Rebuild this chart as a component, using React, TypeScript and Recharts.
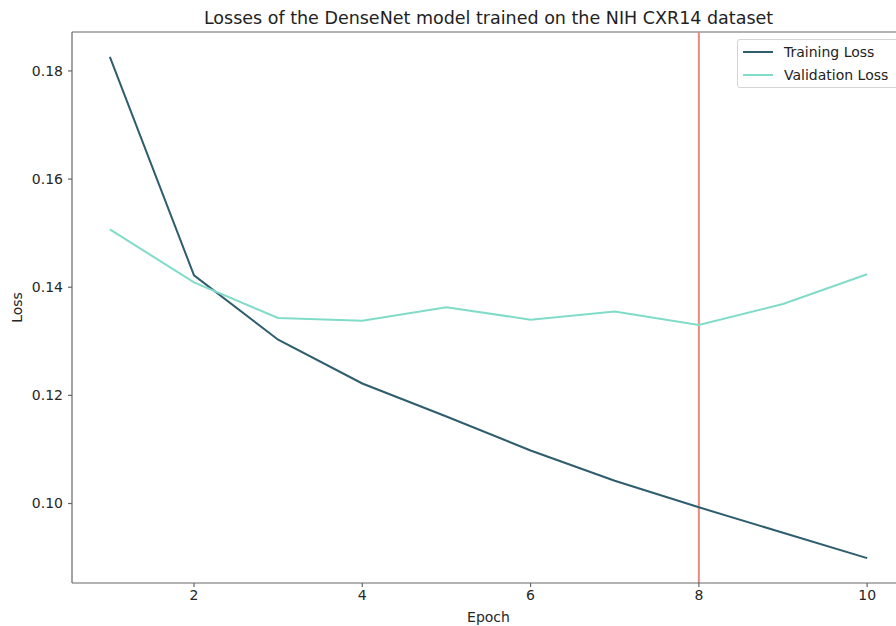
import React from 'react';
import {
  LineChart,
  Line,
  XAxis,
  YAxis,
  ReferenceLine,
} from 'recharts';

// per-epoch losses
const epochs = [1, 2, 3, 4, 5, 6, 7, 8, 9, 10];
const trainingLoss = [0.1826, 0.1422, 0.1303, 0.1222, 0.1161, 0.1098, 0.1042, 0.0993, 0.0946, 0.0899];
const validationLoss = [0.1507, 0.1409, 0.1343, 0.1338, 0.1363, 0.134, 0.1355, 0.133, 0.1369, 0.1424];
const bestEpoch = 8;

const xTicks = [2, 4, 6, 8, 10];
const yTicks = [0.1, 0.12, 0.14, 0.16, 0.18];
const xDomain: [number, number] = [0.55, 10.45];
const yDomain: [number, number] = [0.0853, 0.1872];

const TRAIN_COLOR = '#2e5d6d';
const VAL_COLOR = '#80dcc9';
const BEST_COLOR = '#e9887c';
const SPINE = '#666';
const FONT = '"DejaVu Sans", sans-serif';

const data = epochs.map((epoch, i) => ({
  epoch,
  training: trainingLoss[i],
  validation: validationLoss[i],
}));

const legendItems = [
  { label: 'Training Loss', color: TRAIN_COLOR },
  { label: 'Validation Loss', color: VAL_COLOR },
];

function LossLegend() {
  return (
    <div
      style={{
        position: 'absolute',
        left: 737,
        top: 39,
        width: 161,
        boxSizing: 'border-box',
        padding: '0 0 1px 5px',
        border: '1px solid #d4d4d4',
        borderRadius: 3,
        background: 'rgba(255,255,255,0.8)',
        fontFamily: FONT,
        fontSize: 14,
        color: '#222',
      }}
    >
      {legendItems.map((item) => (
        <div key={item.label} style={{ display: 'flex', alignItems: 'center', height: 23 }}>
          <span style={{ width: 30, height: 2, background: item.color, marginRight: 11 }} />
          <span>{item.label}</span>
        </div>
      ))}
    </div>
  );
}

export default function App() {
  const tickStyle = { fontSize: 14, fill: '#262626', fontFamily: FONT };
  return (
    <div style={{ position: 'relative', width: 896, height: 626, overflow: 'hidden', background: '#fff' }}>
      <style>{'body{margin:0}'}</style>
      <div
        style={{
          position: 'absolute',
          top: 7,
          left: 72,
          width: 833,
          textAlign: 'center',
          fontFamily: FONT,
          fontSize: 17.5,
          color: '#222',
          lineHeight: '22px',
        }}
      >
        Losses of the DenseNet model trained on the NIH CXR14 dataset
      </div>
      <LineChart
        width={912}
        height={626}
        data={data}
        margin={{ top: 32, right: 7, bottom: 0, left: 0 }}
      >
        <XAxis
          dataKey="epoch"
          type="number"
          domain={xDomain}
          ticks={xTicks}
          allowDataOverflow
          height={43}
          stroke={SPINE}
          strokeWidth={1.2}
          tickSize={4}
          tickMargin={3}
          tick={tickStyle}
          label={{ value: 'Epoch', position: 'insideBottom', offset: 4, fontSize: 14, fill: '#262626', fontFamily: FONT }}
        />
        <YAxis
          type="number"
          domain={yDomain}
          ticks={yTicks}
          allowDataOverflow
          width={72}
          stroke={SPINE}
          strokeWidth={1.2}
          tickSize={4}
          tickMargin={5}
          tick={tickStyle}
          tickFormatter={(v: number) => v.toFixed(2)}
          label={{
            value: 'Loss',
            angle: -90,
            position: 'insideLeft',
            offset: 17,
            fontSize: 14,
            fill: '#262626',
            fontFamily: FONT,
            style: { textAnchor: 'middle' },
          }}
        />
        {/* top and right spines */}
        <ReferenceLine y={yDomain[1]} stroke={SPINE} strokeWidth={1.2} />
        <ReferenceLine x={xDomain[1]} stroke={SPINE} strokeWidth={1.2} />
        <ReferenceLine x={bestEpoch} stroke={BEST_COLOR} strokeWidth={2} />
        <Line
          type="linear"
          dataKey="training"
          stroke={TRAIN_COLOR}
          strokeWidth={2}
          dot={false}
          isAnimationActive={false}
        />
        <Line
          type="linear"
          dataKey="validation"
          stroke={VAL_COLOR}
          strokeWidth={2}
          dot={false}
          isAnimationActive={false}
        />
      </LineChart>
      <LossLegend />
    </div>
  );
}
